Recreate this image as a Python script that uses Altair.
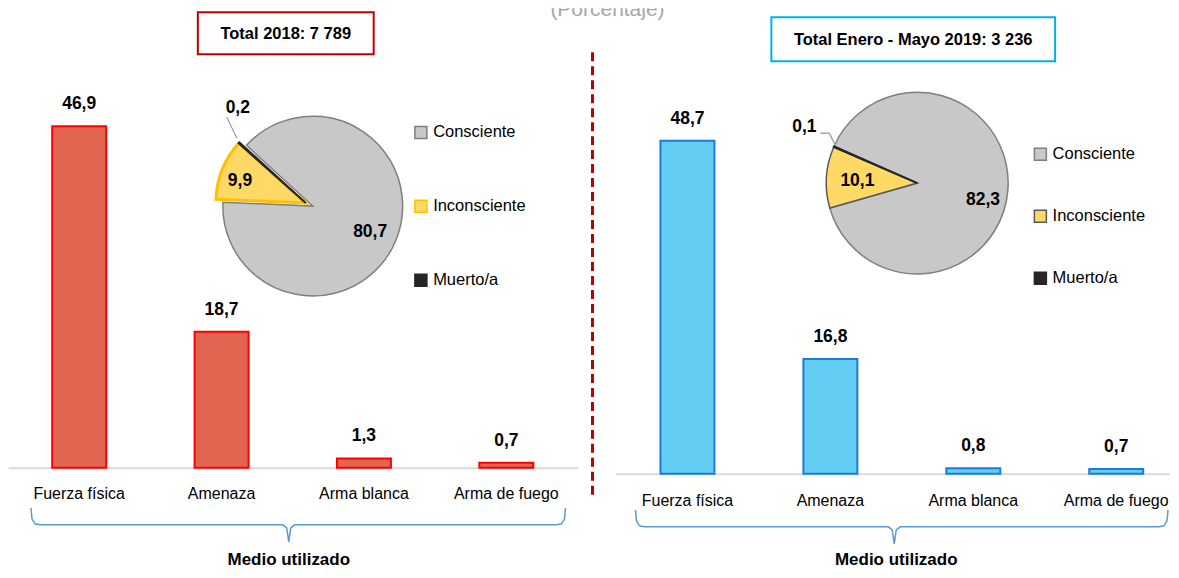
import math
import altair as alt
import pandas as pd

# ---------------- data ----------------
categories = ["Fuerza física", "Amenaza", "Arma blanca", "Arma de fuego"]
values_2018 = [46.9, 18.7, 1.3, 0.7]
values_2019 = [48.7, 16.8, 0.8, 0.7]

states = ["Consciente", "Inconsciente", "Muerto/a"]
state_2018 = [80.7, 9.9, 0.2]
state_2019 = [82.3, 10.1, 0.1]

box_2018 = "Total 2018: 7 789"
box_2019 = "Total Enero - Mayo 2019: 3 236"
subtitle = "(Porcentaje)"
xlabel = "Medio utilizado"

# ---------------- style ----------------
W, H = 1163, 562
FONT = "Liberation Sans, Arial, sans-serif"
PIE_FILLS = ["#C8C8C8", "#FFD966", "#262626"]


def fmt(v):
    return f"{v:.1f}".replace(".", ",")


def bar_panel(vals, x_scale, y_scale, fill, stroke, axis_offset, label_pad):
    df = pd.DataFrame({"cat": categories, "val": vals, "lab": [fmt(v) for v in vals]})
    base = alt.Chart(df).encode(
        x=alt.X("cat:N", sort=categories, scale=x_scale, title=None,
                axis=alt.Axis(orient="bottom", offset=axis_offset, labelAngle=0, ticks=False,
                              tickSize=0, labelPadding=label_pad, labelFont=FONT,
                              labelFontSize=16, labelColor="#000000", domainColor="#D9D9D9",
                              domainWidth=2, grid=False, labelLimit=300)),
        y=alt.Y("val:Q", scale=y_scale, axis=None),
    )
    bars = base.mark_bar(size=54, fill=fill, stroke=stroke, strokeWidth=2)
    text = base.mark_text(dy=-22, font=FONT, fontSize=17.5, fontWeight="bold",
                          color="#000000").encode(text="lab:N")
    return alt.layer(bars, text)


def pie_panel(vals, cx, cy, r, theta0, strokes, explode, yellow_w, legend_xy, row_pad, labels):
    df = pd.DataFrame({"state": states, "val": vals, "lab": [fmt(v) for v in vals],
                       "idx": list(range(len(states)))})
    theta = alt.Theta("val:Q", stack=True,
                      scale=alt.Scale(range=[theta0, theta0 + 2 * math.pi]))
    order = alt.Order("idx:Q")
    leg = alt.Legend(title=None, orient="none", legendX=legend_xy[0], legendY=legend_xy[1],
                     symbolType="square", symbolSize=144, symbolStrokeWidth=1.5,
                     labelFont=FONT, labelFontSize=16.5, labelColor="#000000",
                     rowPadding=row_pad, labelOffset=4, padding=0, labelLimit=300)
    fill = alt.Fill("state:N", sort=states, scale=alt.Scale(domain=states, range=PIE_FILLS), legend=leg)
    stroke = alt.Stroke("state:N", sort=states, scale=alt.Scale(domain=states, range=strokes), legend=leg)
    base = alt.Chart(df).encode(theta=theta, order=order, x=alt.value(cx), y=alt.value(cy))

    main = base.mark_arc(outerRadius=r, strokeWidth=1.5).encode(
        fill=fill, stroke=stroke,
        opacity=alt.condition(alt.datum.state == states[0], alt.value(1), alt.value(0)),
    )
    exploded = base.mark_arc(outerRadius=r, xOffset=explode[0], yOffset=explode[1]).encode(
        fill=fill, stroke=stroke,
        strokeWidth=alt.condition(alt.datum.state == states[1], alt.value(yellow_w), alt.value(2)),
        opacity=alt.condition(alt.datum.state != states[0], alt.value(1), alt.value(0)),
    )
    layers = [main, exploded]
    for st, (rad, dx, dy) in zip(states, labels):
        layers.append(
            base.mark_text(radius=rad, dx=dx, dy=dy, font=FONT, fontSize=17.5,
                           fontWeight="bold", color="#000000").encode(
                text=alt.condition(alt.datum.state == st, alt.Text("lab:N"), alt.value(""))
            )
        )
    return alt.layer(*layers)


def one_row():
    return alt.Chart(pd.DataFrame({"a": [0]}))


def polyline(xs, ys, color, width):
    df = pd.DataFrame({"px": xs, "py": ys, "o": list(range(len(xs)))})
    return alt.Chart(df).mark_line(color=color, strokeWidth=width).encode(
        x=alt.X("px:Q", scale=None, axis=None),
        y=alt.Y("py:Q", scale=None, axis=None),
        order="o:Q",
    )


def brace(x0, x1, xm, ytop, yh, ytip, color="#5B9BD5"):
    xs = [x0, x0 + 1, x0 + 4, x0 + 9, xm - 6, xm - 2, xm, xm + 2, xm + 6, x1 - 9, x1 - 4, x1 - 1, x1]
    ys = [ytop, ytop + 11, yh - 1, yh, yh, yh + 3, ytip, yh + 3, yh, yh, yh - 1, ytop + 11, ytop]
    return polyline(xs, ys, color, 1.5)


def box(x0, x1, y0, y1, color, txt):
    rect = one_row().mark_rect(fill="white", stroke=color, strokeWidth=2).encode(
        x=alt.value(x0), x2=alt.value(x1), y=alt.value(y0), y2=alt.value(y1))
    t = one_row().mark_text(text=txt, font=FONT, fontSize=16.5, fontWeight="bold",
                            color="#000000", baseline="middle").encode(
        x=alt.value((x0 + x1) / 2), y=alt.value((y0 + y1) / 2 + 1))
    return [rect, t]


# ---------------- panels ----------------
left_bars = bar_panel(
    values_2018,
    alt.Scale(domain=categories, range=[0, 570], paddingInner=0, paddingOuter=0),
    alt.Scale(domain=[0, 60], range=[460, 460 - 7.29 * 60], nice=False),
    "#E06652", "#FF0000", -(H - 460), 18,
)
right_bars = bar_panel(
    values_2019,
    alt.Scale(domain=categories, range=[608, 1162], paddingInner=0.5, paddingOuter=0.1865,
              align=0.68),
    alt.Scale(domain=[0, 60], range=[466, 466 - 6.845 * 60], nice=False),
    "#63CDF4", "#1C7CD5", -(H - 466), 19,
)

left_pie = pie_panel(
    state_2018, 305, 198, 90, math.radians(312.5),
    ["#7F7F7F", "#FFC000", "#262626"], (-7, -3), 3, (405, 116), 55,
    [(60, 2, 3), (71, -7, 2), (120, 14, -18)],
)
right_pie = pie_panel(
    state_2019, 910, 175, 91, math.radians(293.8),
    ["#7F7F7F", "#595959", "#262626"], (0, 0), 1.5, (1025, 138), 43,
    [(60, 6, 13), (64, 4, 2), (120, -3, -8)],
)

decos = []
decos += box(190, 366, 4, 46, "#C00000", box_2018)
decos += box(764, 1048, 9, 53, "#00B0F0", box_2019)
decos.append(
    one_row().mark_text(text=subtitle, font=FONT, fontSize=21, color="#A6A6A6",
                        baseline="alphabetic", clip=True).encode(
        x=alt.value(600), y=alt.value(8))
)
decos.append(
    one_row().mark_rule(color="#C00000", strokeWidth=3, strokeDash=[9, 5]).encode(
        x=alt.value(585), y=alt.value(44), y2=alt.value(492))
)
decos.append(brace(23, 558, 281, 500, 517, 534))
decos.append(brace(628, 1161, 887, 502, 519, 536))
for cx in (281, 889):
    decos.append(
        one_row().mark_text(text=xlabel, font=FONT, fontSize=17, fontWeight="bold",
                            color="#000000", baseline="middle").encode(
            x=alt.value(cx), y=alt.value(552))
    )
# leader lines of the small pie labels
decos.append(polyline([219, 229], [109, 130], "#7F7F7F", 1))
decos.append(polyline([813, 822, 828], [125, 125, 137], "#A6A6A6", 1.5))

chart = alt.layer(left_bars, right_bars, left_pie, right_pie, *decos).resolve_scale(
    x="independent", y="independent", theta="independent",
    fill="independent", stroke="independent",
).properties(width=W, height=H, padding=0, background="white").configure_view(stroke=None)

chart.save("out.html", embed_options={"renderer": "svg", "actions": False})
